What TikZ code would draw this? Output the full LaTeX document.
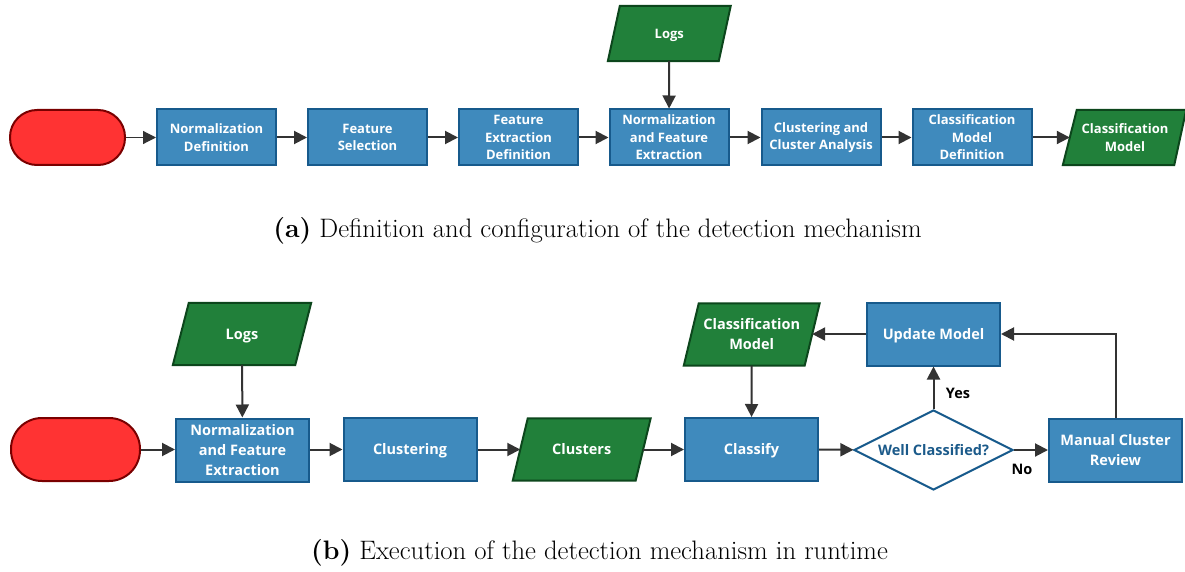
\documentclass[tikz,border=0pt]{standalone}
\usepackage{fontspec}
\newfontfamily\boxfont{Open Sans}
\usetikzlibrary{arrows.meta,shapes.geometric,backgrounds}
\definecolor{bfill}{HTML}{3F8ABD}
\definecolor{bline}{HTML}{175A8C}
\definecolor{gfill}{HTML}{21803A}
\definecolor{gline}{HTML}{0C461C}
\definecolor{rfill}{HTML}{FF3333}
\definecolor{rline}{HTML}{7A0000}
\definecolor{arr}{HTML}{333333}
\definecolor{dtext}{HTML}{1B5A8A}
\tikzset{
  procA/.style={draw=bline, fill=bfill, line width=2pt, minimum width=119, minimum height=56, inner sep=0pt, align=center, text=white, font=\boxfont\bfseries\fontsize{13}{17.5}\selectfont},
  procB/.style={draw=bline, fill=bfill, line width=2pt, minimum width=133, minimum height=63, inner sep=0pt, align=center, text=white, font=\boxfont\bfseries\fontsize{14.5}{20}\selectfont},
  ioA/.style={minimum height=55, inner sep=0pt, align=center, text=white, font=\boxfont\bfseries\fontsize{13}{17.5}\selectfont},
  ioB/.style={minimum height=62, inner sep=0pt, align=center, text=white, font=\boxfont\bfseries\fontsize{14.5}{20}\selectfont},
  oneline/.style={text height=10.5pt, text depth=0pt},
  iopath/.style={draw=gline, fill=gfill, line width=2pt, line join=miter},
  term/.style={draw=rline, fill=rfill, line width=2pt, rounded corners=27, inner sep=0pt},
  dec/.style={diamond, aspect=2, draw=bline, fill=white, line width=2pt, minimum width=159, minimum height=80, inner sep=0pt, text=dtext, font=\boxfont\bfseries\fontsize{14.5}{20}\selectfont},
  flow/.style={draw=arr, line width=2pt, -{Triangle[length=13pt,width=13pt]}},
  lbl/.style={text=black, font=\boxfont\bfseries\fontsize{14.5}{18}\selectfont},
  captext/.style={font=\fontsize{26.7}{30}\selectfont}
}
\begin{document}
\begin{tikzpicture}[x=1pt,y=-1pt]
\useasboundingbox (0,0) rectangle (1185,572);
% ---------- (a) ----------
\node[term, minimum width=115, minimum height=55] (t1) at (67.5,137.5) {};
\node[procA] (nd) at (216.5,137.5) {Normalization\\Definition};
\node[procA] (fs) at (367.5,137.5) {Feature\\Selection};
\node[procA] (fed) at (518.5,137.5) {Feature\\Extraction\\Definition};
\node[procA] (nfe) at (669,137.5) {Normalization\\and Feature\\Extraction};
\node[procA] (cca) at (821,137.5) {Clustering and\\Cluster Analysis};
\node[procA] (cmd) at (972,137.5) {Classification\\Model\\Definition};
\node[ioA, minimum width=110] (cm1) at (1125,137.5) {Classification\\Model};
\node[ioA, oneline, text height=9.5pt, minimum width=110.5] (logs1) at (669.3,33.5) {Logs};
% ---------- (b) ----------
\node[term, minimum width=129, minimum height=63, rounded corners=31] (t2) at (75.5,449.5) {};
\node[procB] (nfe2) at (242.5,450) {Normalization\\and Feature\\Extraction};
\node[procB, oneline] (clu) at (410,449.5) {Clustering};
\node[ioB, oneline, minimum width=122.5] (cls) at (581.7,449.5) {Clusters};
\node[procB, oneline] (clf) at (751.5,449.5) {Classify};
\node[dec, oneline] (wc) at (933.5,450) {Well Classified?};
\node[procB] (mcr) at (1115.5,450) {Manual Cluster\\Review};
\node[procB, oneline] (um) at (933.5,334) {Update Model};
\node[ioB, minimum width=120.5] (cm2) at (751.7,334.5) {Classification\\Model};
\node[ioB, oneline, minimum width=122] (logs2) at (242,334) {Logs};
% parallelogram outlines
\begin{scope}[on background layer]
\draw[iopath] ([xshift=6]logs1.north west) -- ([xshift=6]logs1.north east) -- ([xshift=-6]logs1.south east) -- ([xshift=-6]logs1.south west) -- cycle;
\draw[iopath] ([xshift=7]cm1.north west) -- ([xshift=6]cm1.north east) -- ([xshift=-6]cm1.south east) -- ([xshift=-7]cm1.south west) -- cycle;
\draw[iopath] ([xshift=8]logs2.north west) -- ([xshift=8]logs2.north east) -- ([xshift=-8]logs2.south east) -- ([xshift=-8]logs2.south west) -- cycle;
\draw[iopath] ([xshift=7.5]cls.north west) -- ([xshift=7.5]cls.north east) -- ([xshift=-7.5]cls.south east) -- ([xshift=-7.5]cls.south west) -- cycle;
\draw[iopath] ([xshift=7.5]cm2.north west) -- ([xshift=7.5]cm2.north east) -- ([xshift=-7.5]cm2.south east) -- ([xshift=-7.5]cm2.south west) -- cycle;
\end{scope}
% arrows (a)
\draw[flow, line width=1.2pt] (t1) -- (nd);
\draw[flow] (nd) -- (fs);
\draw[flow] (fs) -- (fed);
\draw[flow] (fed) -- (nfe);
\draw[flow] (nfe) -- (cca);
\draw[flow] (cca) -- (cmd);
\draw[flow] (cmd) -- (cm1);
\draw[flow] (logs1) -- (nfe);
% arrows (b)
\draw[flow] (t2) -- (nfe2.west |- t2);
\draw[flow] (logs2) -- (nfe2);
\draw[flow] (nfe2.east |- clu) -- (clu);
\draw[flow] (clu) -- (cls);
\draw[flow] (cls) -- (clf);
\draw[flow] (cm2) -- (clf);
\draw[flow] (clf) -- (wc);
\draw[flow] (wc) -- (mcr.west |- wc);
\draw[flow] (wc) -- (um);
\draw[flow] (um) -- (cm2.east |- um);
\draw[flow] (mcr.north) |- (um.east);
\node[lbl] (yes) at (958,393) {Yes};
\node[lbl] (no) at (1022,469) {No};
% captions
\node[captext] (capa) at (597.5,231) {\textbf{(a)} Definition and configuration of the detection mechanism};
\node[captext] (capb) at (599.5,553) {\textbf{(b)} Execution of the detection mechanism in runtime};
\end{tikzpicture}
\end{document}
